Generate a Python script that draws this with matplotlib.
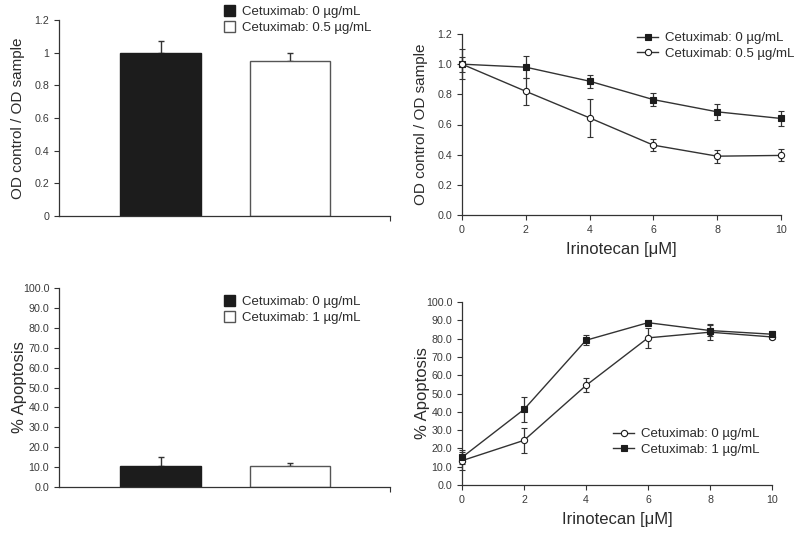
import matplotlib
matplotlib.use('Agg')
import matplotlib.pyplot as plt
import numpy as np
from matplotlib.patches import Patch
from matplotlib.lines import Line2D

plt.rcParams['font.family'] = ['Liberation Sans', 'DejaVu Sans']

# top left: OD ratio bars
od_bar_labels = ['Cetuximab: 0 µg/mL', 'Cetuximab: 0.5 µg/mL']
od_bar_vals = [1.0, 0.952]
od_bar_err = [0.073, 0.046]

# top right: OD ratio vs irinotecan
irino = [0, 2, 4, 6, 8, 10]
od_c0 = [1.0, 0.98, 0.887, 0.765, 0.684, 0.64]
od_c0_err = [0.05, 0.075, 0.042, 0.045, 0.053, 0.05]
od_c05 = [1.0, 0.82, 0.644, 0.463, 0.39, 0.395]
od_c05_err = [0.1, 0.09, 0.127, 0.041, 0.044, 0.04]

# bottom left: apoptosis bars
apo_bar_labels = ['Cetuximab: 0 µg/mL', 'Cetuximab: 1 µg/mL']
apo_bar_vals = [10.7, 10.7]
apo_bar_err = [4.3, 1.2]

# bottom right: apoptosis vs irinotecan
apo_c0 = [13.3, 24.4, 54.4, 80.4, 83.5, 80.9]
apo_c0_err = [5.0, 7.0, 3.8, 5.5, 4.5, 1.3]
apo_c1 = [15.1, 41.3, 79.1, 88.7, 84.4, 82.4]
apo_c1_err = [3.8, 7.0, 2.7, 1.3, 3.0, 1.5]

txt = '#2b2b2b'
W, H = 800, 537
fig = plt.figure(figsize=(8, 5.37), dpi=100)


def px_axes(l, r, t, b):
    return fig.add_axes([l / W, 1 - b / H, (r - l) / W, (b - t) / H])


def style(ax):
    for s in ['top', 'right']:
        ax.spines[s].set_visible(False)
    for s in ['left', 'bottom']:
        ax.spines[s].set_color('#333333')
        ax.spines[s].set_linewidth(0.9)
    ax.tick_params(direction='out', length=3.5, width=0.8, colors='#333333',
                   labelsize=7.7, labelcolor='#3a3a3a')


def bar_panel(ax, vals, err, labels, ylim, yticks, yfmt, ylabel, ylfs, lpad, leg_xy):
    style(ax)
    xs = [0, 1]
    cols = ['#1c1c1c', 'white']
    edges = ['#1c1c1c', '#555555']
    for x, v, e, c, ec in zip(xs, vals, err, cols, edges):
        ax.bar(x, v, width=0.625, color=c, edgecolor=ec, linewidth=1, zorder=2)
        ax.errorbar(x, v, yerr=[[0], [e]], fmt='none', ecolor='#333333',
                    elinewidth=1, capsize=2.5, capthick=1, zorder=1)
    ax.set_xlim(-0.784, 1.772)
    ax.set_xticks([1.772])
    ax.set_xticklabels([''])
    ax.set_ylim(*ylim)
    ax.set_yticks(yticks)
    ax.set_yticklabels([yfmt(v) for v in yticks])
    ax.set_ylabel(ylabel, fontsize=ylfs, color=txt, labelpad=lpad)
    handles = [Patch(facecolor=c, edgecolor=ec, linewidth=1)
               for c, ec in zip(cols, edges)]
    ax.legend(handles, labels, loc='upper left', bbox_to_anchor=leg_xy,
              bbox_transform=fig.transFigure, frameon=False, fontsize=9.5,
              borderpad=0, borderaxespad=0, handlelength=0.85, handleheight=0.85,
              handletextpad=0.5, labelspacing=0.25, labelcolor=txt)


def line_panel(ax, s1, e1, m1, l1, s2, e2, m2, l2, ylim, yticks, yfmt, ylabel, ylfs, lpad, leg_xy):
    style(ax)
    hs = []
    for s, e, m, l in [(s1, e1, m1, l1), (s2, e2, m2, l2)]:
        fc = '#1c1c1c' if m == 's' else 'white'
        ax.errorbar(irino, s, yerr=e, color='#333333', ecolor='#333333',
                    elinewidth=0.9, capsize=2.5, capthick=0.9, linewidth=1,
                    marker=m, markersize=4.5, markerfacecolor=fc,
                    markeredgecolor='#1c1c1c', markeredgewidth=0.8, clip_on=False, zorder=3)
        hs.append(Line2D([], [], color='#333333', linewidth=1, marker=m, markersize=4.5,
                         markerfacecolor=fc, markeredgecolor='#1c1c1c', markeredgewidth=0.8))
    ax.set_xlim(0, 10)
    ax.set_xticks(irino)
    ax.set_ylim(*ylim)
    ax.set_yticks(yticks)
    ax.set_yticklabels([yfmt(v) for v in yticks])
    ax.set_ylabel(ylabel, fontsize=ylfs, color=txt, labelpad=lpad)
    ax.set_xlabel('Irinotecan [μM]', fontsize=12, color=txt, labelpad=5)
    ax.legend(hs, [l1, l2], loc='upper left', bbox_to_anchor=leg_xy,
              bbox_transform=fig.transFigure, frameon=False, fontsize=9.5,
              borderpad=0, borderaxespad=0, handlelength=1.6,
              handletextpad=0.5, labelspacing=0.25, labelcolor=txt)


ax1 = px_axes(59, 390, 20, 216)
bar_panel(ax1, od_bar_vals, od_bar_err, od_bar_labels, (0, 1.2),
          [0, 0.2, 0.4, 0.6, 0.8, 1.0, 1.2], lambda v: '%g' % v,
          'OD control / OD sample', 11, 7, (224 / W, 1 - 5 / H))

ax2 = px_axes(462, 781, 34, 215)
line_panel(ax2, od_c0, od_c0_err, 's', 'Cetuximab: 0 µg/mL',
           od_c05, od_c05_err, 'o', 'Cetuximab: 0.5 µg/mL',
           (0, 1.2), [0, 0.2, 0.4, 0.6, 0.8, 1.0, 1.2], lambda v: '%.1f' % v,
           'OD control / OD sample', 11, 7, (637 / W, 1 - 32 / H))

ax3 = px_axes(59, 390, 288, 487)
bar_panel(ax3, apo_bar_vals, apo_bar_err, apo_bar_labels, (0, 100),
          list(range(0, 101, 10)), lambda v: '%.1f' % v,
          '% Apoptosis', 12, -3, (224 / W, 1 - 295 / H))

ax4 = px_axes(462, 772, 302, 485)
line_panel(ax4, apo_c0, apo_c0_err, 'o', 'Cetuximab: 0 µg/mL',
           apo_c1, apo_c1_err, 's', 'Cetuximab: 1 µg/mL',
           (0, 100), list(range(0, 101, 10)), lambda v: '%.1f' % v,
           '% Apoptosis', 12, -3, (613 / W, 1 - 428 / H))

fig.savefig('out.png', dpi=100)
